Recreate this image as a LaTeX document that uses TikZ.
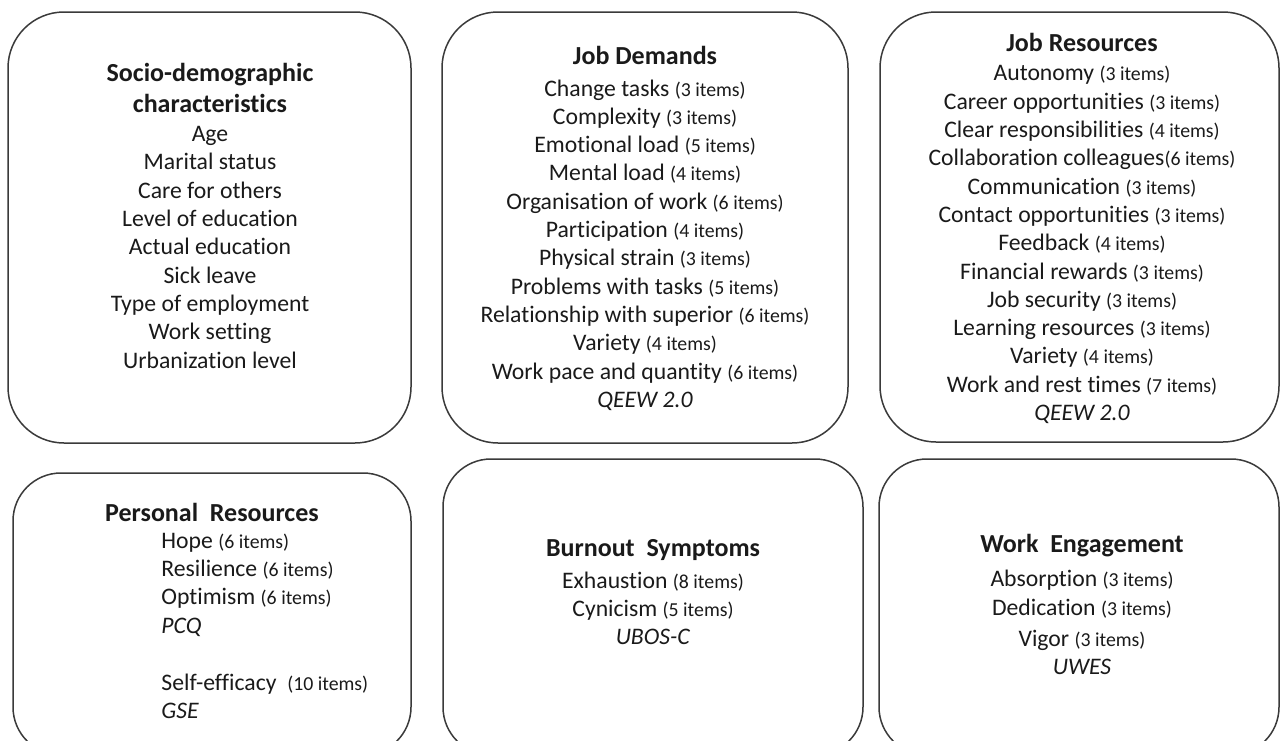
\documentclass[tikz,border=0pt]{standalone}
\usepackage{fontspec}
\setmainfont{Carlito}[RawFeature={-liga}]
\definecolor{boxline}{HTML}{3A3A3A}
\definecolor{txtcol}{HTML}{1A1A1A}
\newcommand\hd[1]{{\bfseries\fontsize{13.0}{14.15}\selectfont #1}}
\newcommand\itm[1]{{\fontsize{9.9}{14.15}\selectfont #1}}
\tikzset{
  box/.style={draw=boxline, line width=0.75pt, fill=none},
  boxtop/.style={box, rounded corners=28pt},
  boxbot/.style={box, rounded corners=24pt},
  txt/.style={align=center, inner sep=0pt, text=txtcol, font=\fontsize{11.85}{14.15}\selectfont},
  txtl/.style={align=left, inner sep=0pt, text=txtcol, font=\fontsize{11.85}{14.15}\selectfont},
}
\begin{document}
\begin{tikzpicture}[x=0.5pt,y=-0.5pt]
\clip (0,0) rectangle (1280,740);
\fill[white] (0,0) rectangle (1280,740);
% boxes
\draw[boxtop] (8,12) rectangle (411,443);
\draw[boxtop] (442,12) rectangle (848,443);
\draw[boxtop] (880,12) rectangle (1279,442);
\draw[boxbot] (13,473) rectangle (411,755);
\draw[boxbot] (443,459) rectangle (863,755);
\draw[boxbot] (879,459) rectangle (1279,755);
% box 1
\node[txt] (socio) at (210,215.5) {\hd{Socio-demographic}\\[1.5pt]\hd{characteristics}\\[0.5pt]
Age\\ Marital status\\ Care for others\\ Level of education\\ Actual education\\ Sick leave\\ Type of employment\\ Work setting\\ Urbanization level};
% box 2
\node[txt] (demands) at (645,228.5) {\hd{Job Demands}\\[1.5pt]
Change tasks \itm{(3 items)}\\
Complexity \itm{(3 items)}\\
Emotional load \itm{(5 items)}\\
Mental load \itm{(4 items)}\\
Organisation of work \itm{(6 items)}\\
Participation \itm{(4 items)}\\
Physical strain \itm{(3 items)}\\
Problems with tasks \itm{(5 items)}\\
Relationship with superior \itm{(6 items)}\\
Variety \itm{(4 items)}\\
Work pace and quantity \itm{(6 items)}\\
\textit{QEEW 2.0}};
% box 3
\node[txt] (jobres) at (1082,228.5) {\hd{Job Resources}\\[0.5pt]
Autonomy \itm{(3 items)}\\
Career opportunities \itm{(3 items)}\\
Clear responsibilities \itm{(4 items)}\\
Collaboration colleagues\itm{(6 items)}\\
Communication \itm{(3 items)}\\
Contact opportunities \itm{(3 items)}\\
Feedback \itm{(4 items)}\\
Financial rewards \itm{(3 items)}\\
Job security \itm{(3 items)}\\
Learning resources \itm{(3 items)}\\
Variety \itm{(4 items)}\\
Work and rest times \itm{(7 items)}\\
\textit{QEEW 2.0}};
% box 4
\node[txt] (persres) at (212,512) {\hd{Personal\ \ Resources}};
\node[txtl, anchor=west] (persitems) at (161,626) {Hope \itm{(6 items)}\\
Resilience \itm{(6 items)}\\
Optimism \itm{(6 items)}\\
\textit{PCQ}\\[14.5pt]
Self-efficacy\ \ \itm{(10 items)}\\
\textit{GSE}};
% box 5
\node[txt] (burnout) at (653,592) {\hd{Burnout\ \ Symptoms}\\[2pt]
Exhaustion \itm{(8 items)}\\
Cynicism \itm{(5 items)}\\
\textit{UBOS-C}};
% box 6
\node[txt] (engage) at (1082,604.5) {\hd{Work\ \ Engagement}\\[3pt]
Absorption \itm{(3 items)}\\
Dedication \itm{(3 items)}\\[1.5pt]
Vigor \itm{(3 items)}\\
\textit{UWES}};
\end{tikzpicture}
\end{document}
